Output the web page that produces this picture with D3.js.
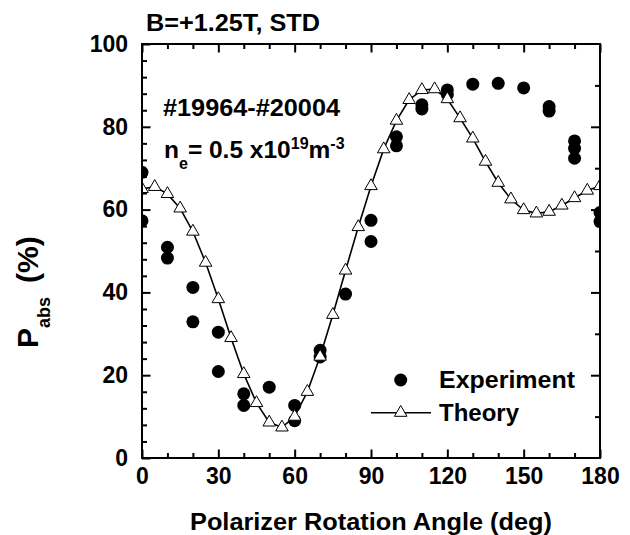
<!DOCTYPE html>
<meta charset="utf-8">
<style>
body { margin: 0; background: white; }
text { font-family: Arial, "Liberation Sans", sans-serif; font-weight: bold; fill: black; }
</style>
<script src="https://d3js.org/d3.v7.min.js"></script>
<div id="chart"></div>
<script>

// measured data
var expAngle = [0,0,10,10,20,20,30,30,40,40,50,60,60,70,70,80,90,90,100,100,110,110,120,120,130,140,150,160,160,170,170,170,180,180];
var expP     = [69,57.3,50.9,48.3,41.2,32.9,30.4,20.9,15.5,12.7,17.1,12.7,9,26,24.4,39.6,57.4,52.3,77.6,75.4,85.3,84.3,88.9,87.8,90.3,90.5,89.4,84.9,83.8,76.6,74.8,72.4,59.3,57.1];

var theoryAngle = [0,5,10,15,20,25,30,35,40,45,50,55,60,65,70,75,80,85,90,95,100,105,110,115,120,125,130,135,140,145,150,155,160,165,170,175,180];
var theoryP     = [65,65.5,63.8,60.3,54.7,47.2,38.4,29,20.3,13.3,8.6,7.4,10,16,24.5,34.6,45.3,55.8,65.7,74.6,81.5,86.5,88.9,89.1,86.7,82.1,77.2,71.6,66.5,62.5,59.9,59.1,59.5,61,62.8,64.6,65.7];

var xMajor = [0,30,60,90,120,150,180];
var xMinor = [10,20,40,50,70,80,100,110,130,140,160,170];
var yMajor = [0,20,40,60,80,100];
var yMinorLeft = [4,8,12,16,24,28,32,36,44,48,52,56,64,68,72,76,84,88,92,96];
var yRightMajor = [20,40,60,80];
var yRightMinor = [10,30,50,70,90];

var W = 630, H = 535;
var margin = {top: 44, right: 30, bottom: 77, left: 142},
    width = W - margin.left - margin.right,
    height = H - margin.top - margin.bottom;

var svg = d3.select("#chart").append("svg")
    .attr("width", W)
    .attr("height", H);

var g = svg.append("g")
    .attr("transform", "translate(" + margin.left + "," + margin.top + ")");

var x = d3.scaleLinear().domain([0, 180]).range([0, width]);
var y = d3.scaleLinear().domain([0, 100]).range([height, 0]);

svg.append("clipPath").attr("id", "clip")
  .append("rect").attr("width", width).attr("height", height);

// axes (ticks point inward)
function styleAxis(sel) {
  sel.select(".domain").remove();
  sel.selectAll(".tick line").attr("stroke", "black").attr("stroke-width", 2);
  sel.selectAll(".tick text").style("font-size", "23px").attr("fill", "black");
}

g.append("g").attr("transform", "translate(0," + height + ")")
  .call(d3.axisBottom(x).tickValues(xMinor).tickSize(-5).tickFormat(""))
  .call(styleAxis);
g.append("g").attr("transform", "translate(0," + height + ")")
  .call(d3.axisBottom(x).tickValues(xMajor).tickSize(-8.5).tickPadding(10))
  .call(styleAxis);

g.append("g")
  .call(d3.axisTop(x).tickValues(xMinor).tickSize(-5).tickFormat(""))
  .call(styleAxis);
g.append("g")
  .call(d3.axisTop(x).tickValues(xMajor).tickSize(-8.5).tickFormat(""))
  .call(styleAxis);

g.append("g")
  .call(d3.axisLeft(y).tickValues(yMinorLeft).tickSize(-5).tickFormat(""))
  .call(styleAxis);
g.append("g")
  .call(d3.axisLeft(y).tickValues(yMajor).tickSize(-8.5).tickPadding(14))
  .call(styleAxis);

g.append("g").attr("transform", "translate(" + width + ",0)")
  .call(d3.axisRight(y).tickValues(yRightMinor).tickSize(-5).tickFormat(""))
  .call(styleAxis);
g.append("g").attr("transform", "translate(" + width + ",0)")
  .call(d3.axisRight(y).tickValues(yRightMajor).tickSize(-9).tickFormat(""))
  .call(styleAxis);

// data
var plot = g.append("g").attr("clip-path", "url(#clip)");

plot.selectAll("circle.exp")
  .data(expAngle.map(function(a, i) { return [a, expP[i]]; }))
  .enter().append("circle")
    .attr("class", "exp")
    .attr("cx", function(d) { return x(d[0]); })
    .attr("cy", function(d) { return y(d[1]); })
    .attr("r", 6.5)
    .attr("fill", "black");

var theory = theoryAngle.map(function(a, i) { return [a, theoryP[i]]; });

plot.append("path")
  .datum(theory)
  .attr("fill", "none")
  .attr("stroke", "black")
  .attr("stroke-width", 1.6)
  .attr("d", d3.line().x(function(d) { return x(d[0]); }).y(function(d) { return y(d[1]); }));

var tri = d3.symbol().type(d3.symbolTriangle).size(68);
plot.selectAll("path.th")
  .data(theory)
  .enter().append("path")
    .attr("class", "th")
    .attr("transform", function(d) { return "translate(" + x(d[0]) + "," + y(d[1]) + ")"; })
    .attr("d", tri)
    .attr("fill", "white")
    .attr("stroke", "black")
    .attr("stroke-width", 1);

// frame
g.append("rect")
  .attr("width", width).attr("height", height)
  .attr("fill", "none").attr("stroke", "black").attr("stroke-width", 2);

// legend
svg.append("circle").attr("cx", 400.7).attr("cy", 380).attr("r", 6.5).attr("fill", "black");
svg.append("text").attr("x", 439).attr("y", 388).style("font-size", "24px")
  .attr("textLength", 136).attr("lengthAdjust", "spacingAndGlyphs").text("Experiment");
svg.append("line").attr("x1", 371).attr("x2", 431).attr("y1", 412.7).attr("y2", 412.7)
  .attr("stroke", "black").attr("stroke-width", 1.6);
svg.append("path").attr("transform", "translate(400.7,412.7)").attr("d", tri)
  .attr("fill", "white").attr("stroke", "black").attr("stroke-width", 1);
svg.append("text").attr("x", 439).attr("y", 421).style("font-size", "24px").text("Theory");

// annotations
svg.append("text").attr("x", 146).attr("y", 31).style("font-size", "23px")
  .attr("textLength", 174).attr("lengthAdjust", "spacingAndGlyphs").text("B=+1.25T, STD");
svg.append("text").attr("x", 163).attr("y", 116).style("font-size", "23px")
  .attr("textLength", 177).attr("lengthAdjust", "spacingAndGlyphs").text("#19964-#20004");

var ne = svg.append("text").attr("x", 164).attr("y", 158).style("font-size", "24.5px");
ne.append("tspan").text("n");
ne.append("tspan").attr("dy", 11).style("font-size", "16px").text("e");
ne.append("tspan").attr("dy", -11).text("= 0.5 x10");
ne.append("tspan").attr("dy", -9).style("font-size", "16px").text("19");
ne.append("tspan").attr("dy", 9).text("m");
ne.append("tspan").attr("dy", -9).style("font-size", "16px").text("-3");

// axis titles
svg.append("text")
  .attr("x", 190)
  .attr("y", 530)
  .style("font-size", "23px")
  .attr("textLength", 362).attr("lengthAdjust", "spacingAndGlyphs")
  .text("Polarizer Rotation Angle (deg)");

var yl = svg.append("text")
  .attr("transform", "translate(38,348) rotate(-90)")
  .style("font-size", "30px");
yl.append("tspan").text("P");
yl.append("tspan").attr("dy", 12).style("font-size", "18px").text("abs");
yl.append("tspan").attr("dy", -12).attr("dx", 14).text("(%)");

</script>
